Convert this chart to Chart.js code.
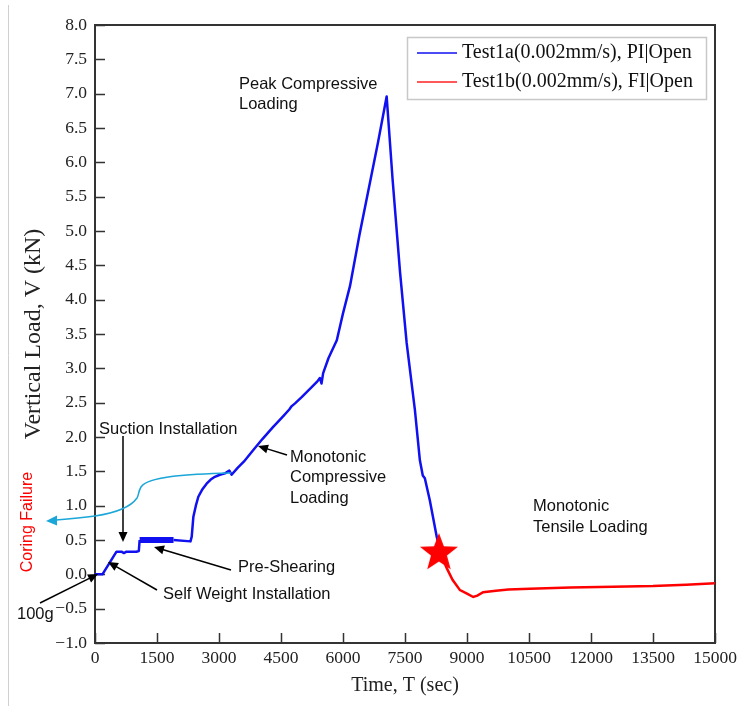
<!DOCTYPE html>
<html>
<head>
<meta charset="utf-8">
<style>
  html, body { margin: 0; padding: 0; background: #fff; }
  #wrap { width: 745px; height: 706px; }
</style>
<script src="https://cdn.jsdelivr.net/npm/chart.js@4"></script>
</head>
<body>
<div id="wrap"><canvas id="grafico" width="745" height="706"></canvas></div>
<script>
// dados
const blueTime = [0, 180, 520, 640, 700, 760, 1000, 1060, 1080, 1900, 2310, 2340, 2380, 2440, 2500, 2600, 2700, 2800, 2900, 3020, 3145, 3250, 3305, 3450, 3600, 3830, 4050, 4300, 4550, 4700, 4760, 4840, 5000, 5200, 5380, 5440, 5480, 5520, 5650, 5850, 6000, 6170, 6400, 6650, 6850, 7056, 7200, 7380, 7540, 7740, 7860, 7930, 7980, 8100, 8270, 8330];
const blueLoad = [0, 0, 0.33, 0.33, 0.31, 0.33, 0.33, 0.34, 0.50, 0.50, 0.48, 0.55, 0.84, 1.00, 1.13, 1.24, 1.32, 1.38, 1.42, 1.45, 1.47, 1.51, 1.45, 1.55, 1.64, 1.81, 1.97, 2.14, 2.30, 2.40, 2.45, 2.49, 2.58, 2.70, 2.81, 2.86, 2.78, 2.93, 3.15, 3.41, 3.80, 4.20, 4.95, 5.70, 6.30, 6.96, 5.75, 4.40, 3.37, 2.39, 1.66, 1.44, 1.40, 1.08, 0.54, 0.40];

const redTime = [8330, 8420, 8510, 8650, 8830, 9000, 9150, 9250, 9390, 9700, 10000, 10520, 11500, 12530, 13500, 14300, 15000];
const redLoad = [0.40, 0.22, 0.09, -0.08, -0.23, -0.28, -0.33, -0.31, -0.26, -0.24, -0.22, -0.21, -0.19, -0.18, -0.17, -0.15, -0.13];

const starTime = [8320];
const starLoad = [0.31];

// trecho do pre-cisalhamento (linha grossa)
const preShearStart = 1080;
const preShearEnd = 1900;

const xTicks = [0, 1500, 3000, 4500, 6000, 7500, 9000, 10500, 12000, 13500, 15000];
const yMin = -1.0, yMax = 8.0, yStep = 0.5;

const labels = ["Test1a(0.002mm/s), PI|Open", "Test1b(0.002mm/s), FI|Open"];

function pares(xs, ys) {
    return xs.map((x, i) => ({ x: x, y: ys[i] }));
}

// estrela vermelha
function criarEstrela(r) {
    const c = document.createElement("canvas");
    c.width = r * 2 + 2;
    c.height = r * 2 + 2;
    const g = c.getContext("2d");
    g.fillStyle = "#ff0000";
    g.beginPath();
    for (let i = 0; i < 10; i++) {
        const rr = i % 2 === 0 ? r : r * 0.42;
        const a = -Math.PI / 2 + i * Math.PI / 5;
        const px = r + 1 + rr * Math.cos(a);
        const py = r + 1 + rr * Math.sin(a);
        if (i === 0) g.moveTo(px, py); else g.lineTo(px, py);
    }
    g.closePath();
    g.fill();
    return c;
}

function seta(ctx, x1, y1, x2, y2, cor) {
    const a = Math.atan2(y2 - y1, x2 - x1);
    const L = 10, W = 4.5;
    ctx.save();
    ctx.strokeStyle = cor;
    ctx.fillStyle = cor;
    ctx.lineWidth = 1.5;
    ctx.beginPath();
    ctx.moveTo(x1, y1);
    ctx.lineTo(x2 - L * 0.8 * Math.cos(a), y2 - L * 0.8 * Math.sin(a));
    ctx.stroke();
    ctx.beginPath();
    ctx.moveTo(x2, y2);
    ctx.lineTo(x2 - L * Math.cos(a) + W * Math.sin(a), y2 - L * Math.sin(a) - W * Math.cos(a));
    ctx.lineTo(x2 - L * Math.cos(a) - W * Math.sin(a), y2 - L * Math.sin(a) + W * Math.cos(a));
    ctx.closePath();
    ctx.fill();
    ctx.restore();
}

function texto(ctx, linhas, x, y, dy) {
    linhas.forEach((t, i) => ctx.fillText(t, x, y + i * dy));
}

// moldura, ticks para dentro, legenda e anotações
const extras = {
    id: "extras",
    beforeDatasetsDraw(chart) {
        const ctx = chart.ctx;
        const ca = chart.chartArea;
        const sx = chart.scales.x, sy = chart.scales.y;
        ctx.save();
        ctx.strokeStyle = "#333";
        ctx.lineWidth = 1.5;
        ctx.beginPath();
        xTicks.forEach(v => {
            const p = Math.round(sx.getPixelForValue(v)) + 0.5;
            ctx.moveTo(p, ca.bottom);
            ctx.lineTo(p, ca.bottom - 10);
        });
        for (let v = yMin; v <= yMax + 1e-9; v += yStep) {
            const p = Math.round(sy.getPixelForValue(v)) + 0.5;
            ctx.moveTo(ca.left, p);
            ctx.lineTo(ca.left + 10, p);
        }
        ctx.stroke();
        ctx.lineWidth = 2;
        ctx.beginPath();
        ctx.moveTo(ca.left, ca.top);
        ctx.lineTo(ca.right, ca.top);
        ctx.lineTo(ca.right, ca.bottom);
        ctx.stroke();
        // linha cinza da margem
        ctx.strokeStyle = "#d0d0d0";
        ctx.lineWidth = 1;
        ctx.beginPath();
        ctx.moveTo(8.5, 5);
        ctx.lineTo(8.5, 706);
        ctx.stroke();
        ctx.restore();
    },
    afterDatasetsDraw(chart) {
        const ctx = chart.ctx;
        ctx.save();

        // legenda
        ctx.fillStyle = "#fff";
        ctx.fillRect(407, 37, 300, 63);
        ctx.strokeStyle = "#c8c8c8";
        ctx.lineWidth = 1.5;
        ctx.strokeRect(407.5, 37.5, 299, 62);
        const cores = ["#1010f0", "#ff2020"];
        ctx.font = "20px 'Liberation Serif', 'Times New Roman', serif";
        ctx.textBaseline = "middle";
        ctx.textAlign = "left";
        [53, 82].forEach((y, i) => {
            ctx.strokeStyle = cores[i];
            ctx.lineWidth = 1.5;
            ctx.beginPath();
            ctx.moveTo(417, y);
            ctx.lineTo(457, y);
            ctx.stroke();
            ctx.fillStyle = "#111";
            ctx.fillText(labels[i], 462, y);
        });

        // textos
        ctx.fillStyle = "#111";
        ctx.font = "16.5px 'Liberation Sans', Arial, sans-serif";
        texto(ctx, ["Peak Compressive", "Loading"], 239, 84, 20);
        texto(ctx, ["Suction Installation"], 99, 429, 20);
        texto(ctx, ["Monotonic", "Compressive", "Loading"], 290, 457, 20.5);
        texto(ctx, ["Pre-Shearing"], 238, 567, 20);
        texto(ctx, ["Self Weight Installation"], 163, 594, 20);
        texto(ctx, ["Monotonic", "Tensile Loading"], 533, 506, 21);
        texto(ctx, ["100g"], 17, 614, 20);

        seta(ctx, 123, 436, 123, 542, "#000");
        seta(ctx, 287, 455, 258, 446, "#000");
        seta(ctx, 231, 570, 154, 547, "#000");
        seta(ctx, 157, 590, 108, 562, "#000");
        seta(ctx, 40, 603, 98, 574, "#000");

        // Coring Failure
        ctx.save();
        ctx.font = "16px 'Liberation Sans', Arial, sans-serif";
        ctx.translate(28, 522);
        ctx.rotate(-Math.PI / 2);
        ctx.textAlign = "center";
        ctx.fillStyle = "#ff0000";
        ctx.fillText("Coring Failure", 0, 0);
        ctx.restore();

        // curva azul-clara
        ctx.strokeStyle = "#1ba6d8";
        ctx.fillStyle = "#1ba6d8";
        ctx.lineWidth = 1.5;
        ctx.beginPath();
        ctx.moveTo(231, 473);
        ctx.bezierCurveTo(190, 474, 148, 476, 141, 487);
        ctx.bezierCurveTo(138, 492, 139, 495, 137, 498);
        ctx.bezierCurveTo(130, 508, 115, 513, 95, 516);
        ctx.bezierCurveTo(80, 518, 68, 519, 56, 520);
        ctx.stroke();
        ctx.beginPath();
        ctx.moveTo(46, 521);
        ctx.lineTo(57, 515.5);
        ctx.lineTo(57, 525.5);
        ctx.closePath();
        ctx.fill();

        ctx.restore();
    }
};

const ctx = document.getElementById("grafico").getContext("2d");
new Chart(ctx, {
    type: "line",
    data: {
        datasets: [
            {
                label: "star",
                data: pares(starTime, starLoad),
                pointStyle: criarEstrela(20),
                pointRadius: 20,
                showLine: false,
                order: 0
            },
            {
                label: labels[1],
                data: pares(redTime, redLoad),
                borderColor: "#ff0000",
                borderWidth: 2.5,
                pointRadius: 0,
                order: 1
            },
            {
                label: labels[0],
                data: pares(blueTime, blueLoad),
                borderColor: "#1010f0",
                borderWidth: 2.5,
                pointRadius: 0,
                borderJoinStyle: "round",
                segment: {
                    borderWidth: c => (c.p0.parsed.x >= preShearStart && c.p1.parsed.x <= preShearEnd) ? 6 : 2.5
                },
                order: 2
            }
        ]
    },
    options: {
        responsive: false,
        animation: false,
        layout: { padding: { left: 0, top: 25, right: 30, bottom: 0 } },
        plugins: {
            legend: { display: false },
            tooltip: { enabled: false }
        },
        scales: {
            x: {
                type: "linear",
                min: 0,
                max: 15000,
                afterBuildTicks: s => { s.ticks = xTicks.map(v => ({ value: v })); },
                afterFit: s => { s.height = 63; },
                grid: { display: false, drawTicks: false },
                border: { display: true, color: "#333", width: 2 },
                ticks: {
                    padding: 5,
                    color: "#222",
                    maxRotation: 0,
                    font: { family: "'Liberation Serif', 'Times New Roman', serif", size: 17.5 },
                    callback: v => String(v)
                },
                title: {
                    display: true,
                    text: "Time, T (sec)",
                    color: "#222",
                    font: { family: "'Liberation Serif', 'Times New Roman', serif", size: 20 },
                    padding: { top: 0, bottom: 8 }
                }
            },
            y: {
                min: yMin,
                max: yMax,
                ticks: {
                    stepSize: yStep,
                    padding: 8,
                    color: "#222",
                    font: { family: "'Liberation Serif', 'Times New Roman', serif", size: 17.5 },
                    callback: v => (v < 0 ? "\u2212" + Math.abs(v).toFixed(1) : v.toFixed(1))
                },
                afterFit: s => { s.width = 95; },
                grid: { display: false, drawTicks: false },
                border: { display: true, color: "#333", width: 2 },
                title: {
                    display: true,
                    text: "Vertical Load, V (kN)",
                    color: "#222",
                    font: { family: "'Liberation Serif', 'Times New Roman', serif", size: 24 },
                    padding: { top: 19, bottom: 0 }
                }
            }
        }
    },
    plugins: [extras]
});
</script>
</body>
</html>
